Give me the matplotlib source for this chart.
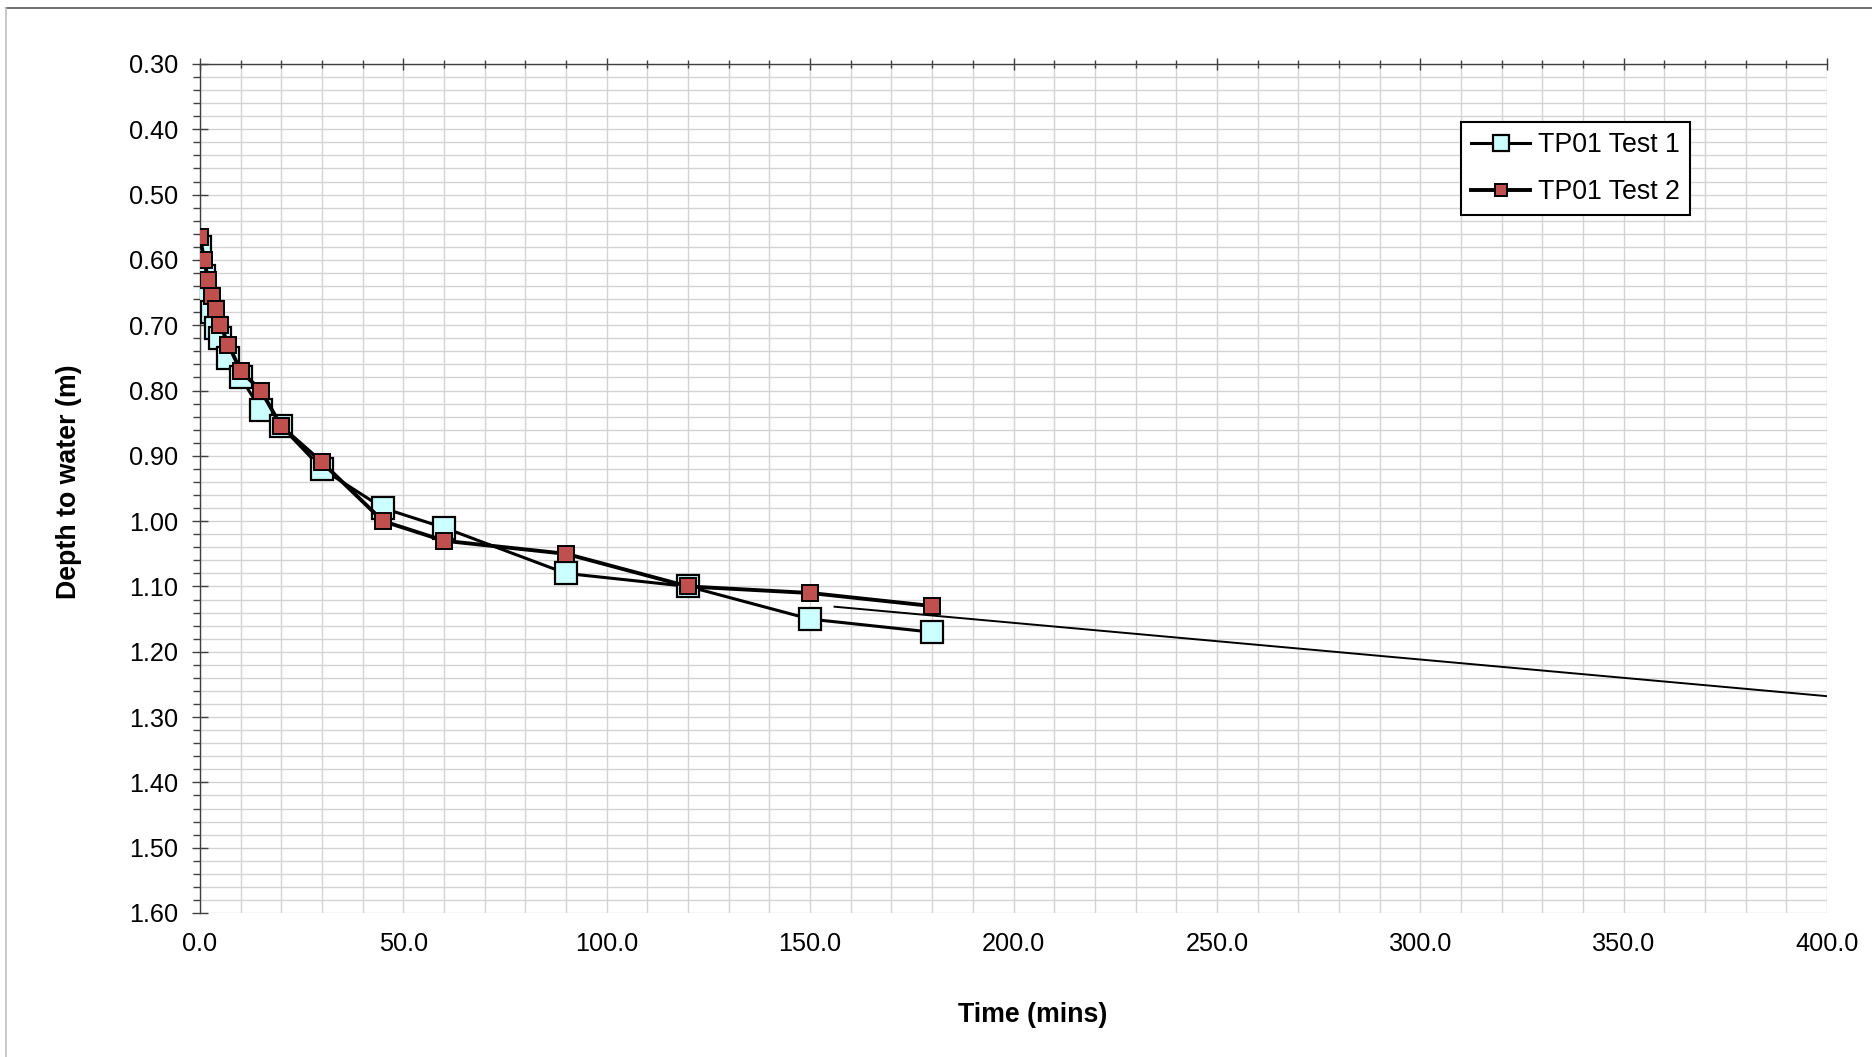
import matplotlib
matplotlib.use("Agg")
import matplotlib.pyplot as plt
from matplotlib.ticker import MultipleLocator, FormatStrFormatter
from matplotlib.lines import Line2D

plt.rcParams['font.family'] = ['Liberation Sans', 'DejaVu Sans']

# ---- data ----
time_test1 = [0, 1, 2, 3, 4, 5, 7, 10, 15, 20, 30, 45, 60, 90, 120, 150, 180]
depth_test1 = [0.58, 0.625, 0.66, 0.68, 0.705, 0.72, 0.75, 0.78, 0.83, 0.855, 0.92,
               0.98, 1.01, 1.08, 1.10, 1.15, 1.17]
time_test2 = [0, 1, 2, 3, 4, 5, 7, 10, 15, 20, 30, 45, 60, 90, 120, 150, 180]
depth_test2 = [0.565, 0.60, 0.63, 0.655, 0.675, 0.70, 0.73, 0.77, 0.80, 0.855, 0.91,
               1.00, 1.03, 1.05, 1.10, 1.11, 1.13]
trend_time = [156, 400]
trend_depth = [1.131, 1.268]
labels = ["TP01 Test 1", "TP01 Test 2"]

W, H = 1872, 1057
fig = plt.figure(figsize=(W / 100, H / 100), dpi=100)
ax = fig.add_axes([200 / W, 1 - 913 / H, (1827 - 200) / W, (913 - 64) / H])

ax.set_xlim(0, 400)
ax.set_ylim(1.60, 0.30)

ax.xaxis.set_major_locator(MultipleLocator(50))
ax.xaxis.set_minor_locator(MultipleLocator(10))
ax.yaxis.set_major_locator(MultipleLocator(0.1))
ax.yaxis.set_minor_locator(MultipleLocator(0.02))
ax.xaxis.set_major_formatter(FormatStrFormatter('%.1f'))
ax.yaxis.set_major_formatter(FormatStrFormatter('%.2f'))

ax.grid(True, which='both', color='#d4d4d4', linewidth=1.0)
ax.set_axisbelow(True)

for s in ['bottom', 'right']:
    ax.spines[s].set_visible(False)
for s in ['left', 'top']:
    ax.spines[s].set_color('#404040')
    ax.spines[s].set_linewidth(1.0)

ax.tick_params(axis='x', which='both', top=True, bottom=False,
               labeltop=False, labelbottom=True, color='#404040', direction='inout')
ax.tick_params(axis='x', which='major', length=9, width=1, pad=9, labelsize=18.2)
ax.tick_params(axis='x', which='minor', length=6, width=1)
ax.tick_params(axis='y', which='major', direction='inout', length=11, width=1,
               color='#404040', pad=10, labelsize=18.2)
ax.tick_params(axis='y', which='minor', direction='out', length=5, width=1,
               color='#404040')

ax.plot(trend_time, trend_depth, color='black', linewidth=1.4, zorder=3)
ax.plot(time_test1, depth_test1, color='black', linewidth=2.2, marker='s',
        markersize=15.5, markerfacecolor='#ccffff', markeredgecolor='black',
        markeredgewidth=1.6, label=labels[0], zorder=4)
ax.plot(time_test2, depth_test2, color='black', linewidth=2.8, marker='s',
        markersize=11.5, markerfacecolor='#c0504d', markeredgecolor='black',
        markeredgewidth=1.4, label=labels[1], zorder=5)

leg = ax.legend(loc='upper left', bbox_to_anchor=(1461 / W, 1 - 122 / H),
                bbox_transform=fig.transFigure, fontsize=19.3, frameon=True,
                fancybox=False, framealpha=1, edgecolor='black',
                handlelength=2.2, handletextpad=0.3, labelspacing=0.78,
                borderpad=0.38, borderaxespad=0, markerscale=0.78)
leg.get_frame().set_linewidth(1.5)

fig.text(1033 / W, 1 - 1015 / H, 'Time (mins)', ha='center', va='center',
         fontsize=19.3, fontweight='bold')
fig.text(69 / W, 1 - 482 / H, 'Depth to water (m)', ha='center', va='center',
         rotation=90, fontsize=19.3, fontweight='bold')

# outer chart border
fig.add_artist(Line2D([6 / W, 1], [1 - 8 / H, 1 - 8 / H], transform=fig.transFigure,
                      color='#555555', linewidth=1.2))
fig.add_artist(Line2D([6 / W, 6 / W], [0, 1 - 8 / H], transform=fig.transFigure,
                      color='#c0c0c0', linewidth=1.2))

fig.savefig('out.png', dpi=100)
